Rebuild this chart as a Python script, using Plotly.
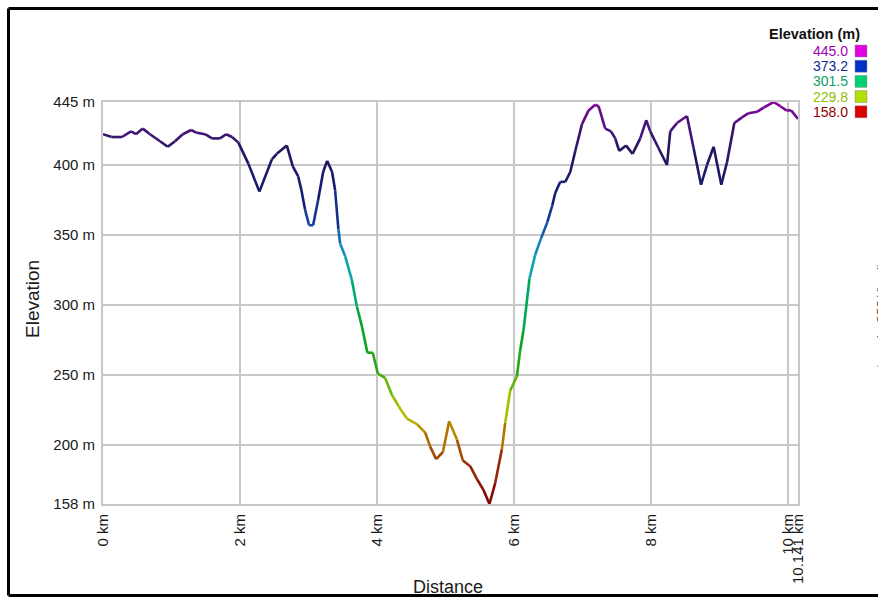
import numpy as np
import plotly.graph_objects as go

# ---------------- data ----------------
distance_km = [
    0.00, 0.127, 0.277, 0.409, 0.482, 0.580, 0.686, 0.832, 0.945, 1.051,
    1.164, 1.285, 1.368, 1.489, 1.591, 1.708, 1.796, 1.883, 1.975, 2.121,
    2.282, 2.463, 2.536, 2.682, 2.769, 2.847, 2.891, 2.949, 3.007, 3.066,
    3.139, 3.212, 3.270, 3.343, 3.387, 3.435, 3.460, 3.533, 3.631, 3.704,
    3.777, 3.858, 3.937, 4.010, 4.117, 4.215, 4.311, 4.434, 4.580, 4.701,
    4.774, 4.861, 4.959, 5.051, 5.164, 5.251, 5.358, 5.455, 5.552, 5.639,
    5.723, 5.820, 5.869, 5.942, 6.039, 6.088, 6.136, 6.223, 6.307, 6.394,
    6.482, 6.555, 6.599, 6.672, 6.745, 6.818, 6.891, 6.988, 7.085, 7.182,
    7.231, 7.328, 7.412, 7.474, 7.533, 7.631, 7.727, 7.839, 7.927, 7.985,
    8.107, 8.229, 8.277, 8.375, 8.521, 8.618, 8.726, 8.813, 8.910, 9.022,
    9.105, 9.212, 9.324, 9.420, 9.543, 9.639, 9.785, 9.883, 9.971, 10.04,
    10.141,
]
elevation_m = [
    422, 420, 420, 424, 422, 426, 422, 417, 413, 417,
    422, 425, 423, 422, 419, 419, 422, 420, 416, 401,
    381, 404, 408, 414, 399, 392, 383, 368, 357, 357,
    375, 395, 403, 395, 382, 354, 344, 335, 318, 299,
    285, 266, 266, 251, 248, 236, 228, 219, 215, 209,
    199, 190, 195, 217, 204, 189, 185, 176, 168, 158,
    173, 197, 216, 239, 249, 268, 282, 319, 336, 348,
    359, 371, 380, 388, 388, 395, 410, 429, 439, 443,
    442, 426, 424, 419, 410, 414, 408, 419, 432, 424,
    412, 400, 424, 430, 435, 412, 386, 400, 413, 386,
    402, 430, 434, 437, 438, 441, 445, 442, 439, 439,
    433,
]

y_tick_vals = [158, 200, 250, 300, 350, 400, 445]
y_tick_text = ["158 m", "200 m", "250 m", "300 m", "350 m", "400 m", "445 m"]
x_tick_vals = [0, 2, 4, 6, 8, 10, 10.141]
x_tick_text = ["0 km", "2 km", "4 km", "6 km", "8 km", "10 km", "10.141 km"]

legend_title = "Elevation (m)"
legend_values = ["445.0", "373.2", "301.5", "229.8", "158.0"]
legend_text_colors = ["#a000b0", "#102a90", "#10a060", "#90c000", "#900000"]
legend_box_colors = ["#e000e0", "#0030c8", "#00d070", "#b0e000", "#d80000"]

# colour ramp along the line (elevation -> rgb)
ramp_elev = [158, 185, 205, 220, 235, 255, 285, 310, 335, 355, 375, 410, 430, 445]
ramp_rgb = [
    (128, 0, 0), (150, 40, 10), (175, 110, 0), (190, 190, 0), (140, 190, 0),
    (40, 170, 20), (0, 160, 40), (0, 170, 120), (20, 160, 200), (20, 80, 170),
    (20, 30, 120), (35, 22, 95), (80, 20, 130), (140, 0, 160),
]

# ---------------- layout geometry ----------------
W, H = 878, 597
L, R, T, B = 103, 80, 102, 93
PW, PH = W - L - R, H - T - B


def px(x):
    return (x - L) / PW


def py(y):
    return (H - B - y) / PH


def ramp_color(v):
    r = np.interp(v, ramp_elev, [c[0] for c in ramp_rgb])
    g = np.interp(v, ramp_elev, [c[1] for c in ramp_rgb])
    b = np.interp(v, ramp_elev, [c[2] for c in ramp_rgb])
    return f"rgb({int(r)},{int(g)},{int(b)})"


fig = go.Figure()
for i in range(len(distance_km) - 1):
    xs = distance_km[i:i + 2]
    ys = elevation_m[i:i + 2]
    fig.add_trace(go.Scatter(
        x=xs, y=ys, mode="lines",
        line=dict(color=ramp_color((ys[0] + ys[1]) / 2), width=2.6),
        showlegend=False, hoverinfo="skip",
    ))

FONT = "Liberation Sans, Arial, sans-serif"
grid = "#c8c8c8"

fig.update_layout(
    width=W, height=H, autosize=False,
    margin=dict(l=L, r=R, t=T, b=B, pad=0),
    paper_bgcolor="white", plot_bgcolor="white",
    font=dict(family=FONT, size=15, color="#1a1a1a"),
    xaxis=dict(
        range=[0, 10.141], tickvals=x_tick_vals, ticktext=x_tick_text,
        tickangle=-90, showgrid=True, gridcolor=grid, gridwidth=2,
        showline=True, linecolor=grid, linewidth=2, mirror=True,
        ticks="outside", ticklen=2, tickcolor="rgba(0,0,0,0)",
        zeroline=False, tickfont=dict(size=15, family=FONT, color="#1a1a1a"),
    ),
    yaxis=dict(
        range=[158, 445], tickvals=y_tick_vals, ticktext=y_tick_text,
        showgrid=True, gridcolor=grid, gridwidth=2,
        showline=True, linecolor=grid, linewidth=2, mirror=True,
        ticks="outside", ticklen=3, tickcolor="rgba(0,0,0,0)",
        zeroline=False, tickfont=dict(size=15, family=FONT, color="#1a1a1a"),
    ),
)

annotations = [
    dict(text="Distance", x=px(448), y=py(587), xref="paper", yref="paper",
         showarrow=False, font=dict(size=18, family=FONT, color="#1a1a1a"),
         xanchor="center", yanchor="middle"),
    dict(text="Elevation", x=px(32), y=py(299), xref="paper", yref="paper",
         showarrow=False, textangle=-90,
         font=dict(size=19, family=FONT, color="#1a1a1a"),
         xanchor="center", yanchor="middle"),
    dict(text="<b>" + legend_title + "</b>", x=px(862), y=py(34), xref="paper",
         yref="paper", showarrow=False, xanchor="right", yanchor="middle",
         font=dict(size=14.5, family=FONT, color="#111111")),
    dict(text="drawn by GPS Visualizer", x=px(873), y=py(310), xref="paper",
         yref="paper", showarrow=False, textangle=-90, xanchor="left",
         yanchor="middle", font=dict(size=11, family=FONT, color="#333333")),
]
shapes = []
for k, (val, tc, bc) in enumerate(zip(legend_values, legend_text_colors, legend_box_colors)):
    yc = 51 + k * 15.2
    annotations.append(dict(
        text=val, x=px(849), y=py(yc), xref="paper", yref="paper",
        showarrow=False, xanchor="right", yanchor="middle", borderpad=0,
        font=dict(size=14, family=FONT, color=tc)))
    shapes.append(dict(
        type="rect", xref="paper", yref="paper",
        x0=px(855), x1=px(867), y0=py(yc + 6), y1=py(yc - 6),
        fillcolor=bc, line=dict(color="#909090", width=0.5)))

# outer black frame (left, top, bottom edges)
fx0, fy_top, fy_bot, fx_r = px(8.5), py(8.5), py(595.5), px(900)
for (x0, y0, x1, y1) in [(fx0, fy_bot, fx0, fy_top), (fx0, fy_top, fx_r, fy_top),
                         (fx0, fy_bot, fx_r, fy_bot)]:
    shapes.append(dict(type="line", xref="paper", yref="paper",
                       x0=x0, y0=y0, x1=x1, y1=y1,
                       line=dict(color="black", width=3)))

fig.update_layout(annotations=annotations, shapes=shapes)
fig.write_html("out.html")
